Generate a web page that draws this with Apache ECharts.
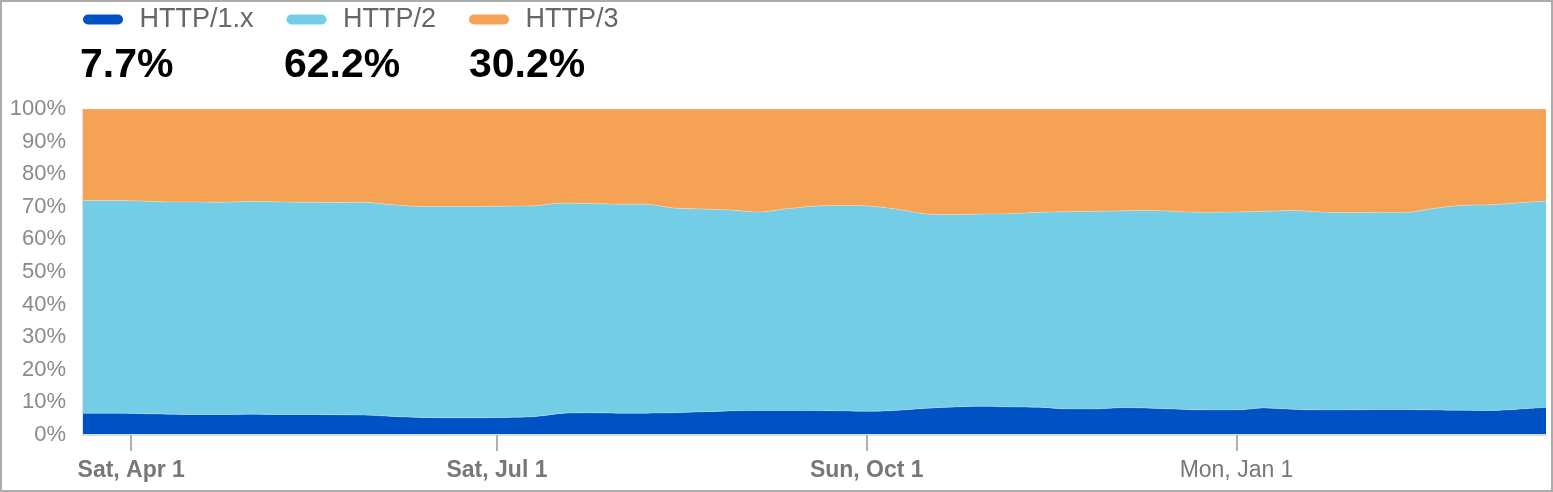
<!DOCTYPE html>
<html>
<head>
<meta charset="utf-8">
<script src="https://cdn.jsdelivr.net/npm/echarts@6/dist/echarts.min.js"></script>
<style>
  html, body { margin: 0; padding: 0; background: #fff; }
  #chart { position: absolute; left: 0; top: 0; width: 1553px; height: 492px; }
  #frame { position: absolute; left: 0; top: 0; width: 1553px; height: 492px; box-sizing: border-box; border: 2px solid #ababab; pointer-events: none; }
</style>
</head>
<body>
<div id="chart"></div>
<div id="frame"></div>
<script>
// ---- data ----
const seriesNames = ['HTTP/1.x', 'HTTP/2', 'HTTP/3'];
const summaryValues = [7.7, 62.2, 30.2];

const weeks = [
  '2023-03-20','2023-03-27','2023-04-03','2023-04-10','2023-04-17','2023-04-24',
  '2023-05-01','2023-05-08','2023-05-15','2023-05-22','2023-05-29',
  '2023-06-05','2023-06-12','2023-06-19','2023-06-26',
  '2023-07-03','2023-07-10','2023-07-17','2023-07-24','2023-07-31',
  '2023-08-07','2023-08-14','2023-08-21','2023-08-28',
  '2023-09-04','2023-09-11','2023-09-18','2023-09-25',
  '2023-10-02','2023-10-09','2023-10-16','2023-10-23','2023-10-30',
  '2023-11-06','2023-11-13','2023-11-20','2023-11-27',
  '2023-12-04','2023-12-11','2023-12-18','2023-12-25',
  '2024-01-01','2024-01-08','2024-01-15','2024-01-22','2024-01-29',
  '2024-02-05','2024-02-12','2024-02-19','2024-02-26',
  '2024-03-04','2024-03-11','2024-03-18'
];

const http1 = [
  6.7, 6.7, 6.6, 6.4, 6.3, 6.3, 6.4, 6.3, 6.3, 6.2, 6.1,
  5.7, 5.4, 5.3, 5.3, 5.4, 5.6, 6.6, 6.8, 6.7, 6.7,
  6.8, 7.1, 7.4, 7.5, 7.5, 7.5, 7.4, 7.3, 7.6, 8.2,
  8.6, 8.8, 8.6, 8.5, 8.0, 8.0, 8.4, 8.2, 7.9, 7.7,
  7.7, 8.3, 7.9, 7.7, 7.7, 7.8, 7.8, 7.7, 7.6, 7.5,
  7.9, 8.5
];
const http2 = [
  65.2, 65.2, 65.2, 65.1, 65.2, 65.1, 65.3, 65.2, 65.1, 65.1, 65.3,
  64.9, 64.7, 64.8, 64.8, 64.8, 64.7, 64.5, 64.2, 64.1, 64.1,
  62.8, 62.2, 61.6, 60.9, 61.9, 62.7, 63.0, 62.9, 61.6, 59.6,
  59.0, 59.0, 59.3, 59.8, 60.5, 60.6, 60.4, 60.7, 60.6, 60.6,
  60.7, 60.3, 61.0, 60.7, 60.5, 60.5, 60.5, 61.8, 62.8, 63.1,
  63.3, 63.3
];
const http3 = [
  28.1, 28.1, 28.2, 28.5, 28.5, 28.6, 28.3, 28.5, 28.6, 28.7, 28.6,
  29.4, 29.9, 29.9, 29.9, 29.8, 29.7, 28.9, 29.0, 29.2, 29.2,
  30.4, 30.7, 31.0, 31.6, 30.6, 29.8, 29.6, 29.8, 30.8, 32.2,
  32.4, 32.2, 32.1, 31.7, 31.5, 31.4, 31.2, 31.1, 31.5, 31.7,
  31.6, 31.4, 31.1, 31.6, 31.8, 31.7, 31.7, 30.5, 29.6, 29.4,
  28.8, 28.2
];

const tickDates = ['2023-04-01', '2023-07-01', '2023-10-01', '2024-01-01'];
const tickLabels = ['Sat, Apr 1', 'Sat, Jul 1', 'Sun, Oct 1', 'Mon, Jan 1'];
const tickBold = [true, true, true, false];

// ---- helpers ----
function ts(s) {
  const p = s.split('-').map(Number);
  return Date.UTC(p[0], p[1] - 1, p[2]);
}
const seriesValues = [http1, http2, http3];
const colors = ['#0051C3', '#73CDE6', '#F6A254'];
const FONT = '"Liberation Sans", Arial, Helvetica, sans-serif';
const tickTs = tickDates.map(ts);
const pill = 'path://M5,0 H35 A5,5 0 0 1 35,10 H5 A5,5 0 0 1 5,0 Z';
const xMin = ts(weeks[0]);
const xMax = ts(weeks[weeks.length - 1]);

const numberLeft = [80, 284, 469];

const chart = echarts.init(document.getElementById('chart'));
chart.setOption({
  animation: false,
  useUTC: true,
  backgroundColor: '#fff',
  color: colors,
  title: summaryValues.map((v, i) => ({
    text: v.toFixed(1) + '%',
    left: numberLeft[i],
    top: 45,
    padding: 0,
    textStyle: { fontSize: 41, fontWeight: 'bold', color: '#000', fontFamily: FONT }
  })),
  legend: {
    data: seriesNames,
    left: 83,
    top: 6,
    padding: 0,
    icon: pill,
    itemWidth: 41,
    itemHeight: 10,
    itemGap: 33,
    selectedMode: false,
    textStyle: { fontSize: 27, color: '#666', fontFamily: FONT, padding: [0, 0, 0, 11] }
  },
  grid: { left: 83, right: 7, top: 109, bottom: 57, containLabel: false },
  xAxis: [
    {
      // time axis carrying the series (base axis for stacking)
      type: 'time',
      position: 'bottom',
      min: xMin,
      max: xMax,
      axisLine: { show: false },
      axisTick: { show: false },
      axisLabel: { show: false },
      splitLine: { show: false }
    },
    {
      // overlay axis for the custom date ticks and labels
      type: 'value',
      position: 'bottom',
      offset: 0,
      min: xMin,
      max: xMax,
      z: 10,
      axisLine: { show: true, onZero: false, lineStyle: { color: '#d3dbe4', width: 2 } },
      axisTick: { show: true, customValues: tickTs, length: 16, lineStyle: { color: '#b0b0b0', width: 2 } },
      splitLine: { show: false },
      axisLabel: {
        customValues: tickTs,
        margin: 24,
        formatter: function (val) {
          const i = tickTs.indexOf(val);
          if (i < 0) return '';
          return tickBold[i] ? '{b|' + tickLabels[i] + '}' : '{n|' + tickLabels[i] + '}';
        },
        rich: {
          b: { fontSize: 23, fontWeight: 'bold', color: '#777', fontFamily: FONT },
          n: { fontSize: 23, fontWeight: 'normal', color: '#777', fontFamily: FONT }
        }
      }
    }
  ],
  yAxis: {
    type: 'value',
    min: 0,
    max: 100,
    interval: 10,
    axisLine: { show: true, lineStyle: { color: '#e2e2e2', width: 2 } },
    axisTick: { show: false },
    splitLine: { show: false },
    axisLabel: {
      formatter: '{value}%',
      fontSize: 22,
      color: '#8a8a8a',
      fontFamily: FONT,
      margin: 17
    }
  },
  series: seriesNames.map((n, i) => ({
    name: n,
    type: 'line',
    xAxisIndex: 0,
    stack: 'total',
    smooth: 0.3,
    showSymbol: false,
    symbol: 'none',
    lineStyle: { width: 1, color: 'rgba(255,255,255,0.25)' },
    itemStyle: { color: colors[i] },
    areaStyle: { color: colors[i], opacity: 1 },
    data: weeks.map((w, k) => [ts(w), seriesValues[i][k]])
  }))
});
</script>
</body>
</html>
